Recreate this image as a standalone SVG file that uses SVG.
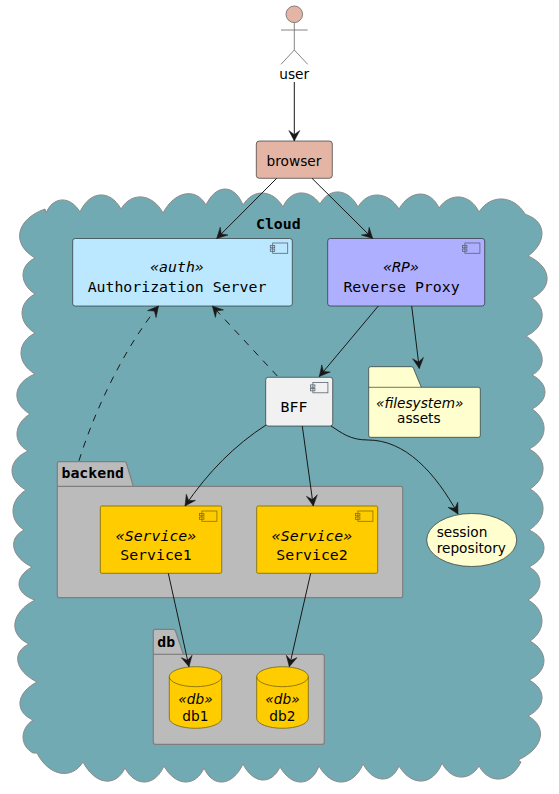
<svg xmlns="http://www.w3.org/2000/svg" width="559" height="794" viewBox="0 0 559 794">
<style>
text{fill:#000}
.m{font-family:"DejaVu Sans Mono","Liberation Mono",monospace;font-size:14.85px;text-anchor:middle}
.mi{font-family:"DejaVu Sans Mono","Liberation Mono",monospace;font-size:14.85px;font-style:italic;text-anchor:middle}
.b{font-family:"DejaVu Sans Mono","Liberation Mono",monospace;font-size:14.85px;font-weight:bold}
.s{font-family:"DejaVu Sans","Liberation Sans",sans-serif;font-size:13.7px;text-anchor:middle}
.si{font-family:"DejaVu Sans","Liberation Sans",sans-serif;font-size:13.7px;font-style:italic;text-anchor:middle}
.box{stroke:#181818;stroke-width:.6}
.pkg{fill:#BBBBBB;stroke:#7F7F7F;stroke-width:1.2;stroke-linejoin:round}
.line{fill:none;stroke:#181818;stroke-width:1;marker-end:url(#arrow)}
.dash{stroke-dasharray:7 7}
.icon{fill:none;stroke:#5A6670;stroke-width:.8}
.note{fill:#FEFECE;stroke:#181818;stroke-width:.6}
.svc{fill:#FFCC00;stroke:#7A6400;stroke-width:.8}
</style>
<defs>
<marker id="arrow" markerUnits="userSpaceOnUse" markerWidth="14" markerHeight="14" refX="12" refY="7" orient="auto" viewBox="0 0 14 14">
<path d="M1.5 1.5L12 7L1.5 12.5L5.5 7Z" fill="#181818" stroke="#181818" stroke-width=".5"/>
</marker>
<g id="ico">
<rect x="2.4" y="0" width="15" height="10.3" fill="none"/>
<rect x="0" y="2.4" width="4.4" height="2.3"/>
<rect x="0" y="6" width="4.4" height="2.3"/>
</g>
</defs>

<g id="cloud">
<path fill="#72AAB3" stroke="#8A8A8A" stroke-width="1" d="M45 209L46 213C53.2 196 70.2 195.5 80 212C89.6 190.6 110 189 121 209C131.5 191.3 152.5 193.3 163 213C174.4 191 196 187 206 205C216 183.7 234.4 183.7 243 205C253 188.2 273 189.2 283 207C290.2 189.6 308.7 188 320 204C329.5 186.7 348.5 188.3 358 207C367.6 190.2 388 191.2 399 209C410.3 189.4 430.3 189 439 208C450.3 191.7 470.3 193.7 479 212C490.5 193.8 513.5 194.8 525 214L527 215C546.6 221.9 547 242.5 528 256C551.7 266.5 553.7 287.5 532 298C547.8 308.8 544.8 327.8 526 336C544.8 347.8 547.8 367.3 532 375C549.3 383.5 549.3 400.5 532 409C549.3 420.3 547.8 440.3 529 449C547.3 457.7 547.8 477.7 530 489C547.8 498.6 547.3 519 529 530C549 538.6 549 557 529 567C544 574.6 543.6 591 528 600C545.8 609.6 546.8 630 530 641C549 651.5 548.6 671 529 680C546.8 689 546.3 707 528 716C548.2 727 543.2 749 518 760L521 762C510.5 783 489.5 785 479 766C469 782 450.6 780.4 442 763C433.3 785.8 411.8 787.3 399 766C391.3 784.2 373.3 783.2 363 764C353.3 787.2 331.3 788.2 319 766C311.3 787 291.8 787.5 280 767C271.4 785.6 253 784 243 764C232.6 786.3 213 788.3 204 768C195.3 787.5 175.3 786.5 164 766C155 786.5 135.4 787.5 125 768C115.8 787.8 94.8 784.8 83 762C71.5 780.5 48.5 776 37 753L33 753C19.7 745.5 19.7 729 33 720C14 711.8 16 692.8 37 682C15 671.2 11 652.2 29 644C7.8 634.3 10.8 612.3 35 600C15 593.8 13.5 577.3 32 567C11.3 557 7.3 538.6 24 530C8.5 520 9.5 500 26 490C6.5 479.6 7.5 460 28 451C12.5 442.5 13.5 424 30 414C10.6 402.7 13 382.7 35 374C16.3 363 16.3 342.6 35 333C17.7 322.6 17.7 303 35 294C19 283.7 19 265.7 35 258C10.8 243.8 15.8 219.3 45 209Z"/>
<text class="b" x="256" y="229">Cloud</text>
</g>

<g id="user">
<circle cx="294.3" cy="14.3" r="8.3" fill="#E4B5A4" stroke="#666" stroke-width=".8"/>
<path d="M294.3 22.6V50M281 30H307.7M281 64.3L294.3 50L307.7 64.3" fill="none" stroke="#666" stroke-width=".8"/>
<text class="s" x="294.2" y="79">user</text>
</g>

<g id="browser">
<rect class="box" x="256.3" y="141" width="76" height="37.3" rx="3" fill="#E4B5A4"/>
<text class="s" x="294" y="165.7">browser</text>
</g>

<g id="auth">
<rect class="box" x="72.7" y="238.5" width="219.6" height="67.5" rx="2.5" fill="#BCE8FF"/>
<use href="#ico" class="icon" x="270.3" y="243"/>
<text class="mi" x="177" y="272">«auth»</text>
<text class="m" x="177" y="291.7">Authorization Server</text>
</g>

<g id="rp">
<rect class="box" x="327.7" y="238.5" width="157" height="67.5" rx="2.5" fill="#AFAFFF"/>
<use href="#ico" class="icon" x="462.5" y="243"/>
<text class="mi" x="401" y="272">«RP»</text>
<text class="m" x="401.5" y="291.7">Reverse Proxy</text>
</g>

<g id="bff">
<rect class="box" x="265.7" y="377.3" width="67" height="48.7" rx="2.5" fill="#F1F1F1"/>
<use href="#ico" class="icon" x="310.5" y="382.5"/>
<text class="m" x="294" y="411.7">BFF</text>
</g>

<g id="assets">
<path class="note" d="M368.7 387.3V368.7Q368.7 366.7 370.7 366.7H411.5Q413 366.7 413.5 368.5L421.3 387.3H478.3Q480.3 387.3 480.3 389.3V435.3Q480.3 437.3 478.3 437.3H370.7Q368.7 437.3 368.7 435.3Z"/>
<path d="M368.7 387.3H421.3" fill="none" stroke="#181818" stroke-width=".6"/>
<text class="si" x="419.7" y="407.7">«filesystem»</text>
<text class="s" x="418.8" y="423.3">assets</text>
</g>

<g id="session">
<ellipse class="note" cx="471.7" cy="540" rx="45" ry="26.5"/>
<text class="s" style="text-anchor:start" x="436.7" y="536.7">session</text>
<text class="s" style="text-anchor:start" x="436.7" y="553.3">repository</text>
</g>

<g id="backend">
<path class="pkg" d="M57.3 486.3V463.7Q57.3 461.7 59.3 461.7H124Q126 461.7 126.5 463.5L133.3 486.3H400.7Q402.7 486.3 402.7 488.3V595.7Q402.7 597.7 400.7 597.7H59.3Q57.3 597.7 57.3 595.7Z"/>
<path class="pkg" d="M57.3 486.3H133.3"/>
<text class="b" x="61.5" y="477.7">backend</text>
</g>

<g id="service1">
<rect class="svc" x="100.3" y="506" width="121.4" height="67.3" rx="1.5"/>
<use href="#ico" class="icon" style="stroke:#8A7000" x="199.5" y="511"/>
<text class="mi" x="156" y="540.7">«Service»</text>
<text class="m" x="156" y="560">Service1</text>
</g>

<g id="service2">
<rect class="svc" x="256.7" y="506" width="121" height="67.3" rx="1.5"/>
<use href="#ico" class="icon" style="stroke:#8A7000" x="355.5" y="511"/>
<text class="mi" x="312" y="540.7">«Service»</text>
<text class="m" x="312" y="560">Service2</text>
</g>

<g id="db">
<path class="pkg" d="M153.3 654.3V631.3Q153.3 629.3 155.3 629.3H173Q175 629.3 175.5 631L183.3 654.3H322.3Q324.3 654.3 324.3 656.3V742.3Q324.3 744.3 322.3 744.3H155.3Q153.3 744.3 153.3 742.3Z"/>
<path class="pkg" d="M153.3 654.3H183.3"/>
<text class="b" x="157.3" y="646.7">db</text>
</g>

<g id="db1">
<path class="svc" d="M169.3 676.7A26.2 10 0 0 1 221.7 676.7V718.3A26.2 10 0 0 1 169.3 718.3Z"/>
<path class="svc" style="fill:none" d="M169.3 676.7A26.2 10 0 0 0 221.7 676.7"/>
<text class="si" x="195.5" y="704">«db»</text>
<text class="s" x="195.3" y="720.7">db1</text>
</g>

<g id="db2">
<path class="svc" d="M256.7 676.7A25.8 10 0 0 1 308.3 676.7V718.3A25.8 10 0 0 1 256.7 718.3Z"/>
<path class="svc" style="fill:none" d="M256.7 676.7A25.8 10 0 0 0 308.3 676.7"/>
<text class="si" x="282.5" y="704">«db»</text>
<text class="s" x="282.3" y="720.7">db2</text>
</g>

<g id="connectors">
<path class="line" d="M294.3 82V141"/>
<path class="line" d="M276.7 178.3L216.7 238.5"/>
<path class="line" d="M312 178.3L372.7 238.5"/>
<path class="line" d="M378.3 306L319.3 376.5"/>
<path class="line" d="M411.7 306L419.3 368.5"/>
<path class="line dash" d="M277.3 376L212.3 306"/>
<path class="line dash" d="M79 460.7C94 412 124 348 158.5 306"/>
<path class="line" d="M266 425C235 445 208 472 185 506"/>
<path class="line" d="M302.3 426L313.3 506"/>
<path class="line" d="M331 426C342 433 350 440 368 440C405 440 435 472 458 514"/>
<path class="line" d="M168.3 573.3L189 666.7"/>
<path class="line" d="M310.7 573.3L289.3 666.7"/>
</g>
</svg>
